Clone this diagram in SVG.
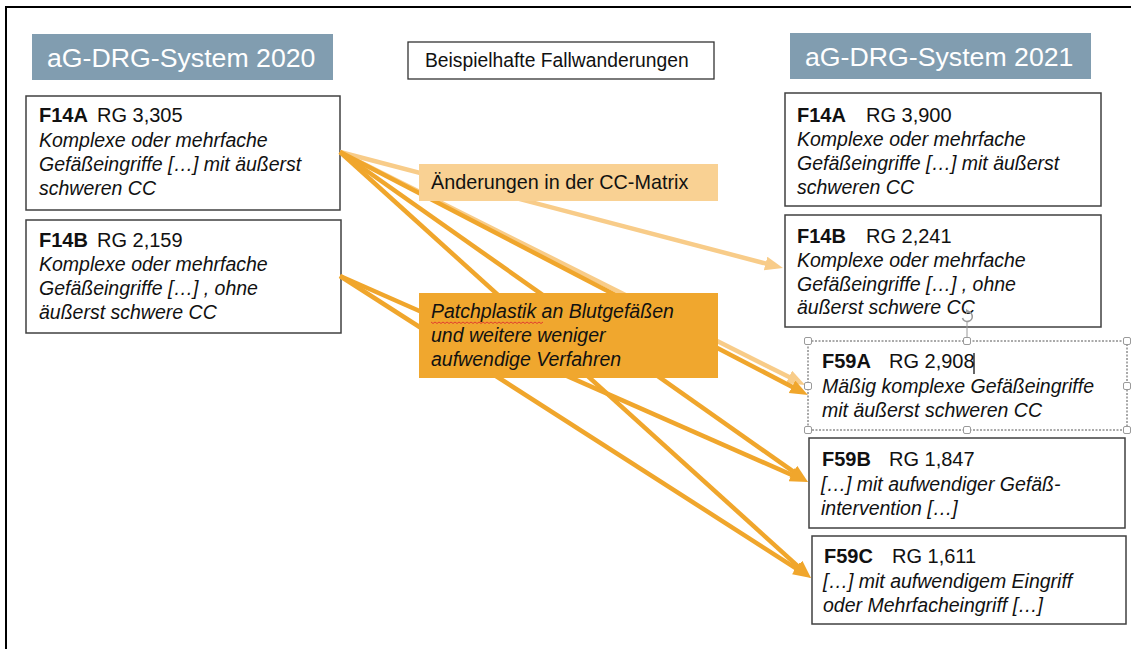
<svg xmlns="http://www.w3.org/2000/svg" width="1138" height="649" viewBox="0 0 1138 649">
<defs>
<style>
.box{fill:#fff;stroke:#404040;stroke-width:1.5}
.hdr{fill:#819DB0}
.htxt{font-family:"Liberation Sans",Arial,sans-serif;font-size:26.7px;fill:#fff}
.t{font-family:"Liberation Sans",Arial,sans-serif;fill:#111}
.code{font-size:20px;font-weight:bold}
.rg{font-size:20px}
.desc{font-size:19.5px;font-style:italic}
.lt{fill:none;stroke:#F8CC89;stroke-width:4.5}
.dk{fill:none;stroke:#F0A62C;stroke-width:4.5}
.hdl{fill:#fff;stroke:#9a9a9a;stroke-width:1}
</style>
<marker id="ahL" markerUnits="userSpaceOnUse" markerWidth="20" markerHeight="16" refX="8" refY="7" orient="auto"><path d="M0,0 L18,7 L0,14 z" fill="#F8CC89"/></marker>
<marker id="ahD" markerUnits="userSpaceOnUse" markerWidth="20" markerHeight="16" refX="8" refY="7" orient="auto"><path d="M0,0 L18,7 L0,14 z" fill="#F0A62C"/></marker>
</defs>
<rect width="1138" height="649" fill="#fff"/>
<path d="M6,649 V7 H1131" fill="none" stroke="#000" stroke-width="2"/>

<g id="hdr2020"><rect class="hdr" x="32" y="34" width="301" height="46"/><text class="htxt" x="47" y="67">aG-DRG-System 2020</text></g>
<g id="hdr2021"><rect class="hdr" x="790" y="33" width="301" height="46"/><text class="htxt" x="805" y="66">aG-DRG-System 2021</text></g>
<g id="title"><rect x="408" y="42" width="306" height="37" fill="#fff" stroke="#333" stroke-width="1.3"/><text class="t" x="425" y="67" font-size="19.3">Beispielhafte Fallwanderungen</text></g>

<g id="l-F14A"><rect class="box" x="26" y="96" width="314" height="114"/>
<text class="t code" x="39" y="122">F14A</text><text class="t rg" x="97" y="122">RG 3,305</text>
<text class="t desc" x="39" y="147">Komplexe oder mehrfache</text>
<text class="t desc" x="39" y="171">Gefäßeingriffe […] mit äußerst</text>
<text class="t desc" x="39" y="195">schweren CC</text></g>

<g id="l-F14B"><rect class="box" x="26" y="220" width="315" height="113"/>
<text class="t code" x="39" y="247">F14B</text><text class="t rg" x="97" y="247">RG 2,159</text>
<text class="t desc" x="39" y="271">Komplexe oder mehrfache</text>
<text class="t desc" x="39" y="295">Gefäßeingriffe […] , ohne</text>
<text class="t desc" x="39" y="319">äußerst schwere CC</text></g>

<g id="r-F14A"><rect class="box" x="785" y="93" width="316" height="113"/>
<text class="t code" x="797" y="122">F14A</text><text class="t rg" x="866" y="122">RG 3,900</text>
<text class="t desc" x="797" y="146">Komplexe oder mehrfache</text>
<text class="t desc" x="797" y="170">Gefäßeingriffe […] mit äußerst</text>
<text class="t desc" x="797" y="194">schweren CC</text></g>

<g id="r-F14B"><rect class="box" x="785" y="215" width="316" height="112"/>
<text class="t code" x="797" y="243">F14B</text><text class="t rg" x="866" y="243">RG 2,241</text>
<text class="t desc" x="797" y="267">Komplexe oder mehrfache</text>
<text class="t desc" x="797" y="291">Gefäßeingriffe […] , ohne</text>
<text class="t desc" x="797" y="314">äußerst schwere CC</text></g>

<g id="connectors">
<line class="lt" x1="340" y1="152" x2="773.3" y2="265.5" marker-end="url(#ahL)"/>
<line class="lt" x1="340" y1="152" x2="796.1" y2="380.5" marker-end="url(#ahL)"/>
<line class="dk" x1="340" y1="152" x2="799.1" y2="390.4" marker-end="url(#ahD)"/>
<line class="dk" x1="340" y1="152" x2="799.8" y2="476.2" marker-end="url(#ahD)"/>
<line class="dk" x1="340" y1="152" x2="803.6" y2="571.3" marker-end="url(#ahD)"/>
<line class="dk" x1="340" y1="276" x2="798.8" y2="478.0" marker-end="url(#ahD)"/>
<line class="dk" x1="340" y1="276" x2="802.6" y2="572.6" marker-end="url(#ahD)"/>
</g>

<g id="cc-matrix"><rect x="419" y="164" width="299" height="37" fill="#F9D193"/>
<text class="t" x="431" y="189" font-size="19.8">Änderungen in der CC-Matrix</text></g>

<g id="patch"><rect x="419" y="293" width="299" height="85" fill="#F0A72E"/>
<text class="t desc" x="431" y="318">Patchplastik an Blutgefäßen</text>
<text class="t desc" x="431" y="342">und weitere weniger</text>
<text class="t desc" x="431" y="366">aufwendige Verfahren</text>
<path d="M431,322 l2,1.5 l2,-1.5 l2,1.5 l2,-1.5 l2,1.5 l2,-1.5 l2,1.5 l2,-1.5 l2,1.5 l2,-1.5 l2,1.5 l2,-1.5 l2,1.5 l2,-1.5 l2,1.5 l2,-1.5 l2,1.5 l2,-1.5 l2,1.5 l2,-1.5 l2,1.5 l2,-1.5 l2,1.5 l2,-1.5 l2,1.5 l2,-1.5 l2,1.5 l2,-1.5 l2,1.5 l2,-1.5 l2,1.5 l2,-1.5 l2,1.5 l2,-1.5 l2,1.5 l2,-1.5 l2,1.5 l2,-1.5 l2,1.5 l2,-1.5 l2,1.5 l2,-1.5 l2,1.5 l2,-1.5 l2,1.5 l2,-1.5 l2,1.5 l2,-1.5 l2,1.5 l2,-1.5 l2,1.5 l2,-1.5 l2,1.5 l2,-1.5 l2,1.5 l2,-1.5" fill="none" stroke="#e03030" stroke-width="0.9"/></g>

<g id="r-F59A"><rect x="808" y="341" width="319" height="89" fill="#fff" stroke="#555" stroke-width="1" stroke-dasharray="2,1.5"/>
<line x1="967" y1="322" x2="967" y2="338" stroke="#9a9a9a" stroke-width="1"/>
<path d="M962.5,318 A5,5 0 1 0 967,311.5" fill="none" stroke="#9a9a9a" stroke-width="1.6"/>
<path d="M966,309 L970,311.5 L966,314 z" fill="#9a9a9a"/>
<rect class="hdl" x="804.5" y="337.5" width="7" height="7" rx="1.5"/>
<rect class="hdl" x="963.5" y="337.5" width="7" height="7" rx="1.5"/>
<rect class="hdl" x="1123.5" y="337.5" width="7" height="7" rx="1.5"/>
<rect class="hdl" x="804.5" y="382.5" width="7" height="7" rx="1.5"/>
<rect class="hdl" x="1123.5" y="382.5" width="7" height="7" rx="1.5"/>
<rect class="hdl" x="804.5" y="426.5" width="7" height="7" rx="1.5"/>
<rect class="hdl" x="963.5" y="426.5" width="7" height="7" rx="1.5"/>
<rect class="hdl" x="1123.5" y="426.5" width="7" height="7" rx="1.5"/>
<text class="t code" x="822" y="368">F59A</text><text class="t rg" x="889" y="368">RG 2,908</text>
<line x1="974" y1="353" x2="974" y2="374" stroke="#000" stroke-width="1.2"/>
<text class="t desc" x="822" y="393">Mäßig komplexe Gefäßeingriffe</text>
<text class="t desc" x="822" y="417">mit äußerst schweren CC</text></g>

<g id="r-F59B"><rect class="box" x="809" y="438" width="316" height="90"/>
<text class="t code" x="822" y="466">F59B</text><text class="t rg" x="889" y="466">RG 1,847</text>
<text class="t desc" x="821" y="491">[…] mit aufwendiger Gefäß-</text>
<text class="t desc" x="821" y="515">intervention […]</text></g>

<g id="r-F59C"><rect class="box" x="812" y="536" width="314" height="88"/>
<text class="t code" x="824" y="563">F59C</text><text class="t rg" x="892" y="563">RG 1,611</text>
<text class="t desc" x="823" y="588">[…] mit aufwendigem Eingriff</text>
<text class="t desc" x="823" y="612">oder Mehrfacheingriff […]</text></g>
</svg>
